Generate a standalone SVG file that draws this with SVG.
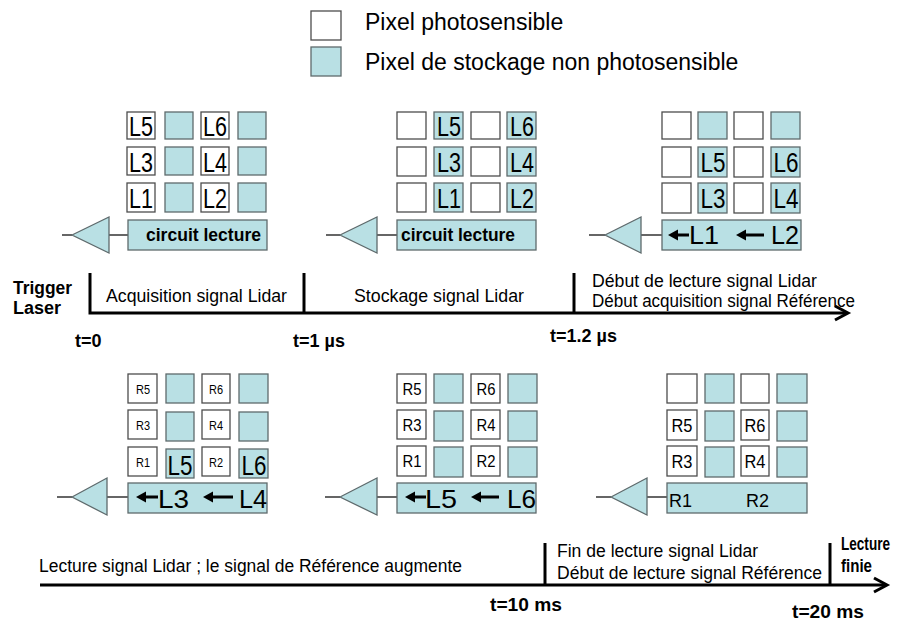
<svg xmlns="http://www.w3.org/2000/svg" xmlns:xlink="http://www.w3.org/1999/xlink" width="905" height="623" viewBox="0 0 905 623">
<style>
  text { font-family: "Liberation Sans", Arial, sans-serif; fill: #000; }
  .w { fill: #ffffff; stroke: #4d4d4d; stroke-width: 1.3; }
  .b { fill: #b9e0e4; stroke: #5e6a6c; stroke-width: 1.3; }
  .tri { fill: #b9e0e4; stroke: #5e6a6c; stroke-width: 1.3; }
  .wire { stroke: #000; stroke-width: 1.2; fill: none; }
  .axis { stroke: #000; stroke-width: 3; fill: none; }
  .head { stroke: #000; stroke-width: 3; fill: none; stroke-linejoin: miter; }
  .shaft { stroke: #000; stroke-width: 3; }
  .big { font-size: 27px; text-anchor: middle; }
  .mid { font-size: 25px; }
  .rs { font-size: 13px; text-anchor: middle; }
  .rm { font-size: 16.5px; text-anchor: middle; }
  .rl { font-size: 19px; text-anchor: middle; }
  .lab { font-size: 17.5px; }
  .bold { font-size: 18px; font-weight: bold; }
  .leg { font-size: 23px; }
</style>
<defs>
  <path id="ah" d="M0,0 L10,-5.5 L10,5.5 Z" fill="#000"/>
</defs>

<g id="legend">
  <g id="legend-photo">
    <rect class="w" x="311" y="11" width="30" height="29"/>
    <text class="leg" x="365" y="30">Pixel photosensible</text>
  </g>
  <g id="legend-storage">
    <rect class="b" x="311" y="47" width="30" height="29"/>
    <text class="leg" x="365" y="70">Pixel de stockage non photosensible</text>
  </g>
</g>

<g id="connectors">
  <line class="wire" x1="62" y1="235" x2="72" y2="235"/>
  <line class="wire" x1="109" y1="235" x2="128" y2="235"/>
  <line class="wire" x1="326" y1="235" x2="340" y2="235"/>
  <line class="wire" x1="377" y1="235" x2="397" y2="235"/>
  <line class="wire" x1="589" y1="235" x2="605" y2="235"/>
  <line class="wire" x1="641" y1="235" x2="662" y2="235"/>
  <line class="wire" x1="57" y1="497" x2="72" y2="497"/>
  <line class="wire" x1="107" y1="497" x2="128" y2="497"/>
  <line class="wire" x1="325" y1="497" x2="340" y2="497"/>
  <line class="wire" x1="377" y1="497" x2="397" y2="497"/>
  <line class="wire" x1="596" y1="497" x2="611" y2="497"/>
  <line class="wire" x1="647" y1="497" x2="667" y2="497"/>
</g>

<!-- Panel 1: acquisition -->
<g id="panel-acquisition">
  <rect class="w" x="127" y="112" width="28" height="27"/>
  <rect class="b" x="165" y="112" width="28" height="27"/>
  <rect class="w" x="201" y="112" width="28" height="27"/>
  <rect class="b" x="238" y="112" width="28" height="27"/>
  <rect class="w" x="127" y="147" width="28" height="28"/>
  <rect class="b" x="165" y="147" width="28" height="28"/>
  <rect class="w" x="201" y="147" width="28" height="28"/>
  <rect class="b" x="238" y="147" width="28" height="28"/>
  <rect class="w" x="127" y="183" width="28" height="29"/>
  <rect class="b" x="165" y="183" width="28" height="29"/>
  <rect class="w" x="201" y="183" width="28" height="29"/>
  <rect class="b" x="238" y="183" width="28" height="29"/>
  <text class="big" x="141" y="136" textLength="24" lengthAdjust="spacingAndGlyphs">L5</text>
  <text class="big" x="215" y="136" textLength="24" lengthAdjust="spacingAndGlyphs">L6</text>
  <text class="big" x="141" y="172" textLength="24" lengthAdjust="spacingAndGlyphs">L3</text>
  <text class="big" x="215" y="172" textLength="24" lengthAdjust="spacingAndGlyphs">L4</text>
  <text class="big" x="141" y="208" textLength="24" lengthAdjust="spacingAndGlyphs">L1</text>
  <text class="big" x="215" y="208" textLength="24" lengthAdjust="spacingAndGlyphs">L2</text>
  <polygon class="tri" points="72,235 109,217 109,253"/>
  <rect class="b" x="128" y="220" width="139" height="30"/>
  <text class="bold" x="146" y="241" textLength="115" lengthAdjust="spacingAndGlyphs">circuit lecture</text>
</g>

<!-- Panel 2: stockage -->
<g id="panel-stockage">
  <rect class="w" x="397" y="112" width="29" height="27"/>
  <rect class="b" x="434" y="112" width="29" height="27"/>
  <rect class="w" x="471" y="112" width="29" height="27"/>
  <rect class="b" x="507" y="112" width="29" height="27"/>
  <rect class="w" x="397" y="147" width="29" height="29"/>
  <rect class="b" x="434" y="147" width="29" height="29"/>
  <rect class="w" x="471" y="147" width="29" height="29"/>
  <rect class="b" x="507" y="147" width="29" height="29"/>
  <rect class="w" x="397" y="183" width="29" height="29"/>
  <rect class="b" x="434" y="183" width="29" height="29"/>
  <rect class="w" x="471" y="183" width="29" height="29"/>
  <rect class="b" x="507" y="183" width="29" height="29"/>
  <text class="big" x="449" y="136" textLength="24" lengthAdjust="spacingAndGlyphs">L5</text>
  <text class="big" x="522" y="136" textLength="24" lengthAdjust="spacingAndGlyphs">L6</text>
  <text class="big" x="449" y="172" textLength="24" lengthAdjust="spacingAndGlyphs">L3</text>
  <text class="big" x="522" y="172" textLength="24" lengthAdjust="spacingAndGlyphs">L4</text>
  <text class="big" x="449" y="208" textLength="24" lengthAdjust="spacingAndGlyphs">L1</text>
  <text class="big" x="522" y="208" textLength="24" lengthAdjust="spacingAndGlyphs">L2</text>
  <polygon class="tri" points="340,235 377,217 377,253"/>
  <rect class="b" x="397" y="220" width="139" height="30"/>
  <text class="bold" x="401" y="241" textLength="114" lengthAdjust="spacingAndGlyphs">circuit lecture</text>
</g>

<!-- Panel 3: debut lecture -->
<g id="panel-debut-lecture">
  <rect class="w" x="662" y="112" width="29" height="27"/>
  <rect class="b" x="698" y="112" width="29" height="27"/>
  <rect class="w" x="734" y="112" width="29" height="27"/>
  <rect class="b" x="771" y="112" width="29" height="27"/>
  <rect class="w" x="662" y="147" width="29" height="30"/>
  <rect class="b" x="698" y="147" width="29" height="30"/>
  <rect class="w" x="734" y="147" width="29" height="30"/>
  <rect class="b" x="771" y="147" width="29" height="30"/>
  <rect class="w" x="662" y="183" width="29" height="30"/>
  <rect class="b" x="698" y="183" width="29" height="30"/>
  <rect class="w" x="734" y="183" width="29" height="30"/>
  <rect class="b" x="771" y="183" width="29" height="30"/>
  <text class="big" x="713" y="172" textLength="25" lengthAdjust="spacingAndGlyphs">L5</text>
  <text class="big" x="786" y="172" textLength="25" lengthAdjust="spacingAndGlyphs">L6</text>
  <text class="big" x="713" y="208" textLength="25" lengthAdjust="spacingAndGlyphs">L3</text>
  <text class="big" x="786" y="208" textLength="25" lengthAdjust="spacingAndGlyphs">L4</text>
  <polygon class="tri" points="605,235 641,217 641,253"/>
  <rect class="b" x="662" y="220" width="139" height="30"/>
  <use xlink:href="#ah" href="#ah" x="668" y="235"/>
  <line class="shaft" x1="676" y1="235" x2="689" y2="235"/>
  <text class="mid" x="689" y="244" textLength="30" lengthAdjust="spacingAndGlyphs">L1</text>
  <use xlink:href="#ah" href="#ah" x="736" y="235"/>
  <line class="shaft" x1="744" y1="235" x2="764" y2="235"/>
  <text class="mid" x="771" y="244" textLength="28" lengthAdjust="spacingAndGlyphs">L2</text>
</g>

<!-- Panel 4: lecture L3 L4 -->
<g id="panel-lecture-1">
  <rect class="w" x="128" y="374" width="29" height="29"/>
  <rect class="b" x="166" y="374" width="28" height="29"/>
  <rect class="w" x="202" y="374" width="28" height="29"/>
  <rect class="b" x="239" y="374" width="29" height="29"/>
  <rect class="w" x="128" y="410" width="29" height="29"/>
  <rect class="b" x="166" y="412" width="28" height="29"/>
  <rect class="w" x="202" y="410" width="28" height="29"/>
  <rect class="b" x="239" y="412" width="29" height="29"/>
  <rect class="w" x="128" y="447" width="29" height="29"/>
  <rect class="b" x="166" y="449" width="28" height="29"/>
  <rect class="w" x="202" y="447" width="28" height="29"/>
  <rect class="b" x="239" y="449" width="29" height="29"/>
  <text class="rs" x="143" y="394" textLength="14" lengthAdjust="spacingAndGlyphs">R5</text>
  <text class="rs" x="216" y="394" textLength="14" lengthAdjust="spacingAndGlyphs">R6</text>
  <text class="rs" x="143" y="430" textLength="14" lengthAdjust="spacingAndGlyphs">R3</text>
  <text class="rs" x="216" y="430" textLength="14" lengthAdjust="spacingAndGlyphs">R4</text>
  <text class="rs" x="143" y="467" textLength="14" lengthAdjust="spacingAndGlyphs">R1</text>
  <text class="rs" x="216" y="467" textLength="14" lengthAdjust="spacingAndGlyphs">R2</text>
  <text class="big" x="180" y="475" textLength="25" lengthAdjust="spacingAndGlyphs">L5</text>
  <text class="big" x="254" y="475" textLength="25" lengthAdjust="spacingAndGlyphs">L6</text>
  <polygon class="tri" points="72,497 107,478 107,515"/>
  <rect class="b" x="128" y="483" width="139" height="30"/>
  <use xlink:href="#ah" href="#ah" x="136" y="497"/>
  <line class="shaft" x1="144" y1="497" x2="158" y2="497"/>
  <text class="mid" x="158" y="508" textLength="31" lengthAdjust="spacingAndGlyphs">L3</text>
  <use xlink:href="#ah" href="#ah" x="203" y="497"/>
  <line class="shaft" x1="211" y1="497" x2="233" y2="497"/>
  <text class="mid" x="239" y="508" textLength="28" lengthAdjust="spacingAndGlyphs">L4</text>
</g>

<!-- Panel 5: lecture L5 L6 -->
<g id="panel-lecture-2">
  <rect class="w" x="397" y="374" width="29" height="29"/>
  <rect class="b" x="434" y="374" width="29" height="29"/>
  <rect class="w" x="471" y="374" width="29" height="29"/>
  <rect class="b" x="508" y="374" width="29" height="29"/>
  <rect class="w" x="397" y="410" width="29" height="29"/>
  <rect class="b" x="434" y="411" width="29" height="30"/>
  <rect class="w" x="471" y="410" width="29" height="29"/>
  <rect class="b" x="508" y="411" width="29" height="30"/>
  <rect class="w" x="397" y="446" width="29" height="30"/>
  <rect class="b" x="434" y="447" width="29" height="30"/>
  <rect class="w" x="471" y="446" width="29" height="30"/>
  <rect class="b" x="508" y="447" width="29" height="30"/>
  <text class="rm" x="412" y="395" textLength="19" lengthAdjust="spacingAndGlyphs">R5</text>
  <text class="rm" x="486" y="395" textLength="19" lengthAdjust="spacingAndGlyphs">R6</text>
  <text class="rm" x="412" y="431" textLength="19" lengthAdjust="spacingAndGlyphs">R3</text>
  <text class="rm" x="486" y="431" textLength="19" lengthAdjust="spacingAndGlyphs">R4</text>
  <text class="rm" x="412" y="467" textLength="19" lengthAdjust="spacingAndGlyphs">R1</text>
  <text class="rm" x="486" y="467" textLength="19" lengthAdjust="spacingAndGlyphs">R2</text>
  <polygon class="tri" points="340,497 377,478 377,515"/>
  <rect class="b" x="397" y="483" width="139" height="30"/>
  <use xlink:href="#ah" href="#ah" x="405" y="497"/>
  <line class="shaft" x1="413" y1="497" x2="426" y2="497"/>
  <text class="mid" x="425" y="508" textLength="32" lengthAdjust="spacingAndGlyphs">L5</text>
  <use xlink:href="#ah" href="#ah" x="471" y="497"/>
  <line class="shaft" x1="479" y1="497" x2="499" y2="497"/>
  <text class="mid" x="507" y="508" textLength="29" lengthAdjust="spacingAndGlyphs">L6</text>
</g>

<!-- Panel 6: lecture reference -->
<g id="panel-lecture-reference">
  <rect class="w" x="667" y="374" width="30" height="29"/>
  <rect class="b" x="705" y="374" width="29" height="29"/>
  <rect class="w" x="741" y="374" width="28" height="29"/>
  <rect class="b" x="777" y="374" width="30" height="29"/>
  <rect class="w" x="667" y="410" width="30" height="30"/>
  <rect class="b" x="705" y="411" width="29" height="30"/>
  <rect class="w" x="741" y="410" width="28" height="30"/>
  <rect class="b" x="777" y="411" width="30" height="30"/>
  <rect class="w" x="667" y="446" width="30" height="30"/>
  <rect class="b" x="705" y="447" width="29" height="30"/>
  <rect class="w" x="741" y="446" width="28" height="30"/>
  <rect class="b" x="777" y="447" width="30" height="30"/>
  <text class="rl" x="682" y="432" textLength="21" lengthAdjust="spacingAndGlyphs">R5</text>
  <text class="rl" x="755" y="432" textLength="21" lengthAdjust="spacingAndGlyphs">R6</text>
  <text class="rl" x="682" y="468" textLength="21" lengthAdjust="spacingAndGlyphs">R3</text>
  <text class="rl" x="755" y="468" textLength="21" lengthAdjust="spacingAndGlyphs">R4</text>
  <polygon class="tri" points="611,497 647,478 647,515"/>
  <rect class="b" x="667" y="483" width="140" height="30"/>
  <text class="lab" x="669" y="507" font-size="18" textLength="23" lengthAdjust="spacingAndGlyphs">R1</text>
  <text class="lab" x="746" y="507" font-size="18" textLength="23" lengthAdjust="spacingAndGlyphs">R2</text>
</g>

<!-- Top timeline -->
<g id="timeline-top">
  <polyline class="axis" points="90,273 90,313 846,313"/>
  <line class="axis" x1="304" y1="273" x2="304" y2="313"/>
  <line class="axis" x1="574" y1="273" x2="574" y2="313"/>
  <polyline class="head" points="835,306 848,313 835,320"/>
  <text class="bold" x="13" y="294" textLength="59" lengthAdjust="spacingAndGlyphs">Trigger</text>
  <text class="bold" x="13" y="314">Laser</text>
  <text class="lab" x="106" y="302" textLength="181" lengthAdjust="spacingAndGlyphs">Acquisition signal Lidar</text>
  <text class="lab" x="354" y="302" textLength="170" lengthAdjust="spacingAndGlyphs">Stockage signal Lidar</text>
  <text class="lab" x="592" y="287" textLength="225" lengthAdjust="spacingAndGlyphs">Début de lecture signal Lidar</text>
  <text class="lab" x="592" y="307" textLength="263" lengthAdjust="spacingAndGlyphs">Début acquisition signal Référence</text>
  <text class="bold" x="75" y="347">t=0</text>
  <text class="bold" x="293" y="347">t=1 µs</text>
  <text class="bold" x="550" y="342">t=1.2 µs</text>
</g>

<!-- Bottom timeline -->
<g id="timeline-bottom">
  <line class="axis" x1="40" y1="585" x2="885" y2="585"/>
  <line class="axis" x1="545" y1="543" x2="545" y2="585"/>
  <line class="axis" x1="830" y1="543" x2="830" y2="585"/>
  <polyline class="head" points="874,578 887,585 874,592"/>
  <text class="lab" x="39" y="572" font-size="19" textLength="423" lengthAdjust="spacingAndGlyphs">Lecture signal Lidar ; le signal de Référence augmente</text>
  <text class="lab" x="557" y="557" font-size="19" textLength="201" lengthAdjust="spacingAndGlyphs">Fin de lecture signal Lidar</text>
  <text class="lab" x="557" y="579" font-size="19" textLength="265" lengthAdjust="spacingAndGlyphs">Début de lecture signal Référence</text>
  <text class="bold" x="841" y="550" font-size="19" textLength="49" lengthAdjust="spacingAndGlyphs">Lecture</text>
  <text class="bold" x="841" y="572" font-size="19" textLength="31" lengthAdjust="spacingAndGlyphs">finie</text>
  <text class="bold" x="490" y="611" textLength="72" lengthAdjust="spacingAndGlyphs">t=10 ms</text>
  <text class="bold" x="792" y="618" textLength="72" lengthAdjust="spacingAndGlyphs">t=20 ms</text>
</g>
</svg>
